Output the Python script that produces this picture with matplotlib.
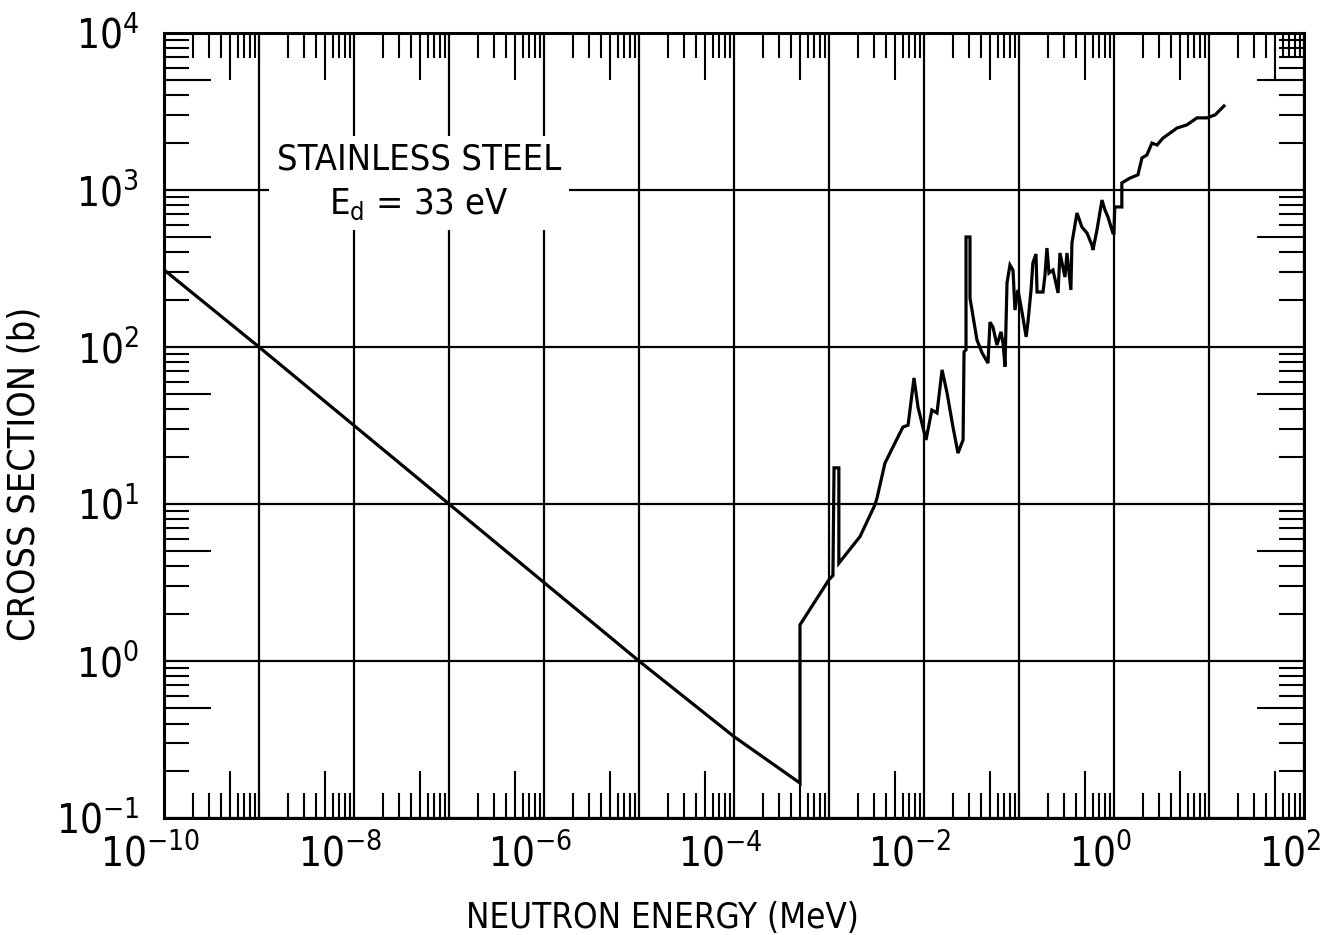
import numpy as np
import matplotlib
matplotlib.use("Agg")
import matplotlib.pyplot as plt
from matplotlib import font_manager
from matplotlib.ticker import FixedLocator, FuncFormatter
from matplotlib.transforms import ScaledTranslation

# pick a narrow sans if there is one, the original lettering is condensed
fonts = font_manager.fontManager.ttflist
names = {f.name for f in fonts}
if 'Liberation Sans Narrow' in names:
    family, stretch = 'Liberation Sans Narrow', 'normal'
elif any(f.name == 'DejaVu Sans' and 'ondensed' in str(f.stretch) for f in fonts):
    family, stretch = 'DejaVu Sans', 'condensed'
else:
    family, stretch = 'Liberation Sans', 'normal'

plt.rcParams['font.family'] = [family, 'DejaVu Sans']
plt.rcParams['font.stretch'] = stretch
plt.rcParams['mathtext.fontset'] = 'custom'
plt.rcParams['mathtext.rm'] = family
plt.rcParams['mathtext.it'] = family
plt.rcParams['mathtext.default'] = 'regular'

# displacement cross section, stainless steel
# energy in MeV, cross section in barns
energy = [1e-10, 1e-9, 1e-7, 1e-5, 1e-4, 4.95e-4,
          4.95e-4, 1.0e-3, 1.1e-3, 1.13e-3, 1.27e-3, 1.27e-3,
          2.12e-3, 3.05e-3, 3.2e-3, 3.88e-3, 4.95e-3, 6.0e-3, 6.8e-3,
          7.85e-3, 8.65e-3, 1.05e-2, 1.21e-2, 1.37e-2, 1.55e-2, 1.75e-2,
          2.02e-2, 2.28e-2, 2.58e-2, 2.64e-2, 2.77e-2, 2.77e-2, 3.05e-2,
          3.05e-2, 3.61e-2, 4.08e-2, 4.72e-2, 4.95e-2, 5.32e-2, 5.86e-2,
          6.47e-2, 6.79e-2, 7.13e-2, 7.48e-2, 8.04e-2, 8.65e-2, 9.08e-2,
          9.75e-2, 0.108, 0.119, 0.124, 0.134, 0.140, 0.151, 0.155,
          0.179, 0.188, 0.197, 0.207, 0.228, 0.258, 0.270, 0.305, 0.320,
          0.352, 0.361, 0.408, 0.460, 0.520, 0.586, 0.601, 0.662, 0.748,
          0.804, 0.865, 0.975, 1.0, 1.02, 1.21, 1.21, 1.47, 1.79, 1.97,
          2.22, 2.51, 2.84, 3.28, 4.60, 5.86, 7.48, 9.53, 11.6, 14.4]
sigma = [310, 100, 10, 1.0, 0.33, 0.167,
         1.7, 3.3, 3.5, 17, 17, 4.2,
         6.2, 9.9, 10.9, 18.2, 24.5, 30.9, 31.8,
         63.5, 41.5, 25.6, 39.7, 38, 71.5, 50.9,
         30.9, 21.1, 25.6, 93, 96, 502, 502,
         205, 111, 92, 79, 144, 134, 103,
         125, 106, 75, 256, 333, 309, 172,
         231, 165, 116, 142, 231, 343, 391, 224,
         224, 288, 427, 296, 309, 221, 397, 279, 397,
         231, 460, 714, 581, 532, 446, 415, 556, 863,
         746, 673, 532, 532, 780, 780, 1110, 1190, 1250, 1600,
         1670, 1990, 1935, 2140, 2480, 2600, 2880, 2880, 3010, 3430]

x_decades = [10.0 ** k for k in range(-10, 3)]
y_decades = [10.0 ** k for k in range(-1, 5)]
subs = [2, 3, 4, 5, 6, 7, 8, 9]

fig = plt.figure(figsize=(13.23, 9.35), dpi=100)
ax = fig.add_axes([0.124, 0.1251, 0.8616, 0.8396])

ax.plot(energy, sigma, color='k', lw=2.3, solid_joinstyle='miter')

ax.set_xscale('log')
ax.set_yscale('log')
ax.set_xlim(1e-10, 1e2)
ax.set_ylim(1e-1, 1e4)
ax.set_axisbelow(True)

for spine in ax.spines.values():
    spine.set_linewidth(2.2)

# decades: grid lines + labels, no tick marks
ax.xaxis.set_major_locator(FixedLocator(x_decades))
ax.yaxis.set_major_locator(FixedLocator(y_decades))
ax.xaxis.set_major_formatter(FuncFormatter(
    lambda v, p: '' if int(round(np.log10(v))) % 2 else r'$10^{%d}$' % int(round(np.log10(v)))))
ax.yaxis.set_major_formatter(FuncFormatter(
    lambda v, p: r'$10^{%d}$' % int(round(np.log10(v)))))
ax.grid(True, which='major', color='k', lw=1.6)
ax.tick_params(which='major', length=0, labelsize=29)
ax.tick_params(axis='x', which='major', pad=12)
ax.tick_params(axis='y', which='major', pad=18)

# x labels sit a little left of their grid line
shift = ScaledTranslation(-0.14, 0, fig.dpi_scale_trans)
for tick in ax.xaxis.get_major_ticks(len(x_decades)):
    tick.label1.set_transform(tick.label1.get_transform() + shift)

# minor ticks inside on all four sides, the one at 5 is longer
x_minor = [s * d for d in x_decades[:-1] for s in subs]
y_minor = [s * d for d in y_decades[:-1] for s in subs]
ax.xaxis.set_minor_locator(FixedLocator(x_minor))
ax.yaxis.set_minor_locator(FixedLocator(y_minor))
ax.xaxis.set_minor_formatter(FuncFormatter(lambda v, p: ''))
ax.yaxis.set_minor_formatter(FuncFormatter(lambda v, p: ''))
ax.tick_params(which='minor', direction='in', length=18, width=1.5,
               top=True, right=True, bottom=True, left=True)

for axis, locs in ((ax.xaxis, x_minor), (ax.yaxis, y_minor)):
    for tick, loc in zip(axis.get_minor_ticks(len(locs)), locs):
        if abs(loc / 10.0 ** np.floor(np.log10(loc) + 1e-9) - 5) < 1e-6:
            tick.tick1line.set_markersize(34)
            tick.tick2line.set_markersize(34)

ax.set_xlabel('NEUTRON ENERGY (MeV)', fontsize=25)
ax.set_ylabel('CROSS SECTION (b)', fontsize=27)
ax.xaxis.set_label_coords(0.437, -0.106)
ax.yaxis.set_label_coords(-0.107, 0.438)

ax.text(0.224, 0.81, 'STAINLESS STEEL\n$E_d$ = 33 eV', transform=ax.transAxes,
        ha='center', va='center', multialignment='center', fontsize=26,
        linespacing=1.35,
        bbox=dict(boxstyle='square,pad=0.22', fc='white', ec='none'))

fig.savefig('out.png', dpi=100)
